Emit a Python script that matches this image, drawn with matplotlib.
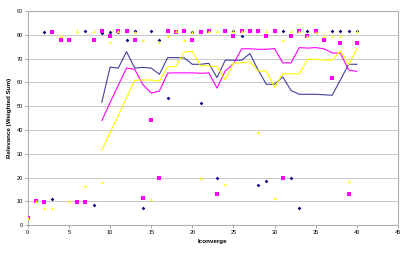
import matplotlib
matplotlib.use("Agg")
import matplotlib.pyplot as plt

# ── scatter series (one colour each, markers only) ─────────────
navy_pts_x = [2, 3, 7, 8, 9, 10, 11, 12, 13, 14, 15, 16, 17, 20, 21, 23, 25, 26,
              28, 29, 31, 32, 33, 34, 35, 37, 38, 39, 40]
navy_pts_y = [81.1, 10.9, 81.6, 8.4, 80.9, 81.1, 81.0, 77.9, 81.6, 7.4, 81.6, 77.9,
              53.6, 81.0, 51.5, 19.7, 81.6, 79.3, 16.8, 18.5, 81.6, 19.7, 7.4, 81.6,
              81.0, 81.6, 81.6, 81.6, 81.6]

magenta_pts_x = list(range(0, 41))
magenta_pts_y = [3.2, 10.2, 9.7, 81.1, 77.9, 77.9, 9.7, 9.7, 77.9, 81.6, 79.3, 81.6,
                 81.6, 77.6, 11.6, 44.2, 19.7, 81.6, 81.1, 81.6, 77.6, 81.1, 81.6,
                 13.3, 81.6, 79.3, 81.4, 81.6, 81.6, 79.3, 81.6, 19.7, 79.3, 81.6,
                 79.3, 81.6, 77.6, 61.8, 76.5, 13.3, 76.5]

yellow_pts_x = [0, 1, 2, 3, 4, 5, 6, 7, 8, 9, 10, 11, 13, 14, 15, 16, 17, 18, 19, 20,
                21, 22, 23, 24, 25, 26, 28, 29, 30, 31, 32, 33, 34, 35, 36, 37, 38,
                39, 40]
yellow_pts_y = [3.2, 10.2, 7.4, 7.4, 79.3, 10.2, 81.6, 16.4, 81.6, 18.3, 76.9, 81.4,
                81.1, 77.9, 10.9, 76.9, 79.3, 81.6, 77.9, 81.1, 19.7, 81.6, 81.4,
                17.4, 81.6, 81.4, 39.3, 81.4, 11.6, 77.6, 81.4, 81.6, 79.3, 81.0,
                79.3, 79.3, 79.3, 18.5, 81.6]

# ── line series (x = 9..40) ───────────────────────────────────
line_x = list(range(9, 41))
navy_line = [51.7, 66.4, 66.0, 72.9, 66.0, 66.3, 66.0, 63.4, 70.4, 70.4, 70.3, 67.6,
             67.6, 68.0, 62.0, 69.3, 69.3, 69.3, 72.1, 65.2, 59.2, 59.2, 62.3, 56.6,
             55.0, 55.0, 55.0, 54.8, 54.6, 61.0, 67.6, 67.6]
magenta_line = [44.0, 51.5, 58.8, 66.0, 65.5, 59.0, 55.5, 56.4, 63.9, 64.0, 64.0,
                64.0, 63.8, 64.0, 57.6, 64.8, 67.8, 74.1, 74.1, 73.9, 73.9, 74.2,
                68.2, 68.2, 74.6, 74.4, 74.6, 74.1, 72.4, 72.2, 65.2, 64.6]
yellow_line = [31.6, 38.9, 46.2, 53.5, 60.9, 61.0, 61.0, 60.5, 66.6, 66.6, 72.7,
               73.0, 67.0, 66.9, 66.6, 61.0, 68.1, 68.3, 68.6, 64.8, 64.8, 58.0,
               63.6, 63.6, 63.6, 69.7, 69.7, 69.4, 69.3, 73.3, 67.4, 74.1]

NAVY, MAGENTA, YELLOW = "#000080", "#FF00FF", "#FFFF00"

plt.rcParams["font.family"] = ["Liberation Sans", "DejaVu Sans"]

fig = plt.figure(figsize=(4.09, 2.54), dpi=100)
ax = fig.add_axes([0.068, 0.113, 0.905, 0.844])

ax.plot(line_x, navy_line, color=NAVY, lw=0.8, alpha=0.75, zorder=3)
ax.plot(line_x, magenta_line, color=MAGENTA, lw=0.8, zorder=3)
ax.plot(line_x, yellow_line, color=YELLOW, lw=0.8, zorder=3)

ax.scatter(navy_pts_x, navy_pts_y, marker="D", s=3.5, color=NAVY, lw=0, zorder=4)
ax.scatter(magenta_pts_x, magenta_pts_y, marker="s", s=5.5, color=MAGENTA, lw=0, zorder=4)
ax.scatter(yellow_pts_x, yellow_pts_y, marker="^", s=5, color=YELLOW, lw=0, zorder=4)

ax.set_xlim(0, 45)
ax.set_ylim(0, 90)
ax.set_xticks(range(0, 46, 5))
ax.set_yticks(range(0, 91, 10))
ax.tick_params(labelsize=4, length=2, width=0.5, color="#808080", pad=1.5)
ax.yaxis.grid(True, color="#c8c8c8", lw=0.7)
ax.set_axisbelow(True)
for s in ax.spines.values():
    s.set_color("#b0b0b0")
    s.set_linewidth(0.8)

ax.set_xlabel("Iconverge", fontsize=4.5, fontweight="bold", labelpad=3)
ax.set_ylabel("Relevance (Weighted Sum)", fontsize=4.5, fontweight="bold", labelpad=3)

fig.savefig("out.png", dpi=100)
